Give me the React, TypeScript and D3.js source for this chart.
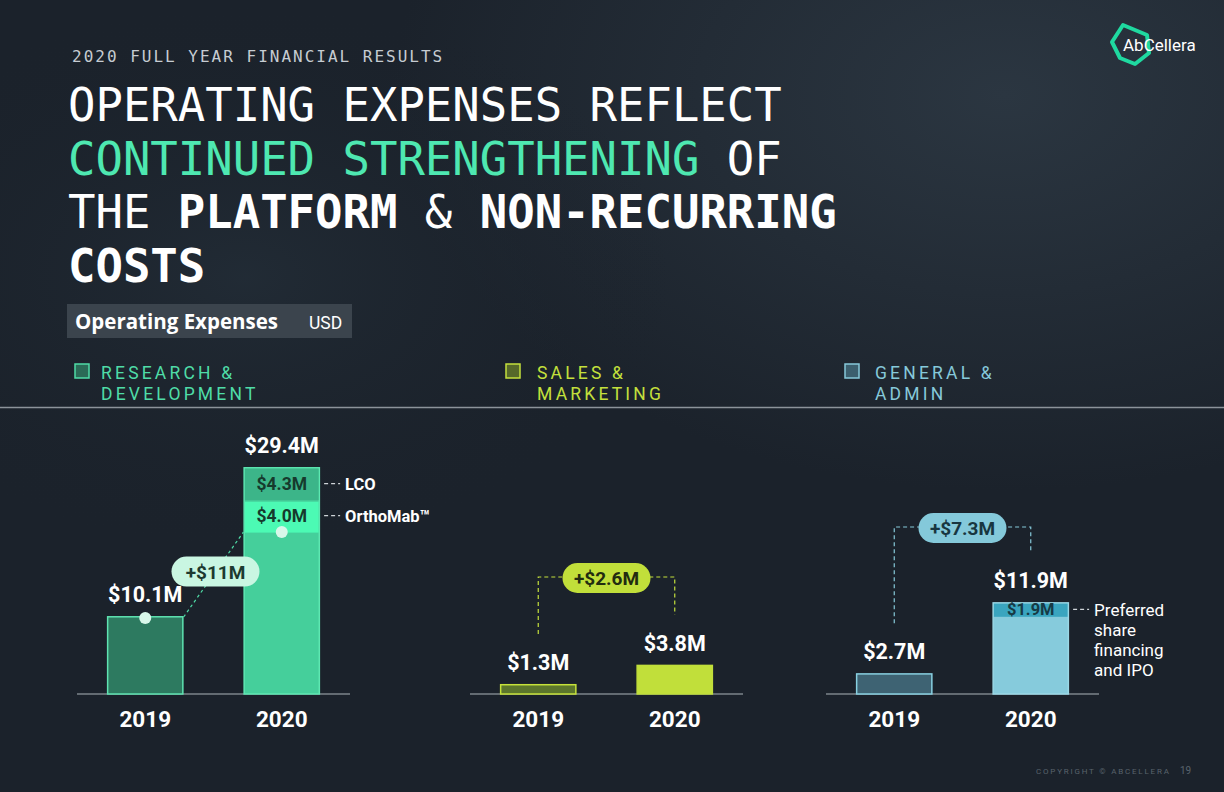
import React from 'react';
import * as d3 from 'd3';

const years = ['2019', '2020'];
const rdValues = [10.1, 29.4];
const smValues = [1.3, 3.8];
const gaValues = [2.7, 11.9];
const rdSegmentLabels = ['LCO', 'OrthoMab™'];
const rdSegmentValues = [4.3, 4.0];
const gaSegmentLabels = ['Preferred', 'share', 'financing', 'and IPO'];
const gaSegmentValues = [1.9];
const deltaLabels = ['+$11M', '+$2.6M', '+$7.3M'];
const legendLines = [['RESEARCH &', 'DEVELOPMENT'], ['SALES &', 'MARKETING'], ['GENERAL &', 'ADMIN']];
const titleSub = '2020 FULL YEAR FINANCIAL RESULTS';

const W = 1224, H = 792;
const BG = '#1b222b';
const MONO = '"DejaVu Sans Mono", monospace';
const SANS = 'Roboto, "Liberation Sans", sans-serif';

const fmt = (v: number) => `$${v.toFixed(1)}M`;

const themes = [
  { legend: '#4fdca7', legendFill: '#2b6b57', fill19: '#2d7a60', stroke19: '#5fe3b1', fill20: '#45cf9b', stroke20: '#5ee8b2', pill: '#c9f6e2', pillText: '#1d3a30', dark: '#163a2d' },
  { legend: '#c4e03c', legendFill: '#56682a', fill19: '#5c762c', stroke19: '#c6e23a', fill20: '#c1df3a', stroke20: '#c1df3a', pill: '#c1df3a', pillText: '#222c10', dark: '#222c10' },
  { legend: '#86c9da', legendFill: '#3c5f6e', fill19: '#3e6373', stroke19: '#88d0e1', fill20: '#86cbdc', stroke20: '#9ad8e6', pill: '#84c9da', pillText: '#183640', dark: '#173a45' },
];

const panelX = [77, 470, 826];
const panelW = 273;
const legendX = [75, 506, 845];
const bracketY = [0, 577, 527];

export default function App() {
  const y = d3.scaleLinear().domain([0, 30]).range([694, 462.4]);
  const bands = panelX.map((px) =>
    d3.scaleBand<string>().domain(years).range([px, px + panelW]).paddingInner(0.438).paddingOuter(0.219)
  );
  const series = [rdValues, smValues, gaValues];

  const pill = (cx: number, cy: number, text: string, t: any, w = 88) => (
    <g>
      <rect x={cx - w / 2} y={cy - 15} width={w} height={30} rx={15} fill={t.pill} />
      <text x={cx} y={cy + 7} textAnchor="middle" fontFamily={SANS} fontWeight={700} fontSize={19} fill={t.pillText}>{text}</text>
    </g>
  );

  const bRD = bands[0];
  const bw = bRD.bandwidth();
  const rdBase20 = rdValues[1] - rdSegmentValues[0] - rdSegmentValues[1];
  const x19r = (bRD('2019') as number) + bw;
  const x20l = bRD('2020') as number;
  const lineStart = [x19r, y(rdValues[0]) + 1];
  const lineEnd = [x20l, y(rdBase20) + 1];

  return (
    <svg width={W} height={H} style={{ display: 'block', position: 'absolute', left: 0, top: 0 }}>
      <defs>
        <radialGradient id="glow" cx="0.82" cy="0.12" r="0.5">
          <stop offset="0%" stopColor="#2b3641" />
          <stop offset="100%" stopColor={BG} />
        </radialGradient>
        <radialGradient id="glow2" cx="0.2" cy="0.35" r="0.35">
          <stop offset="0%" stopColor="#222c36" stopOpacity={0.9} />
          <stop offset="100%" stopColor={BG} stopOpacity={0} />
        </radialGradient>
      </defs>
      <rect width={W} height={H} fill={BG} />
      <rect width={W} height={H} fill="url(#glow)" />
      <rect width={W} height={H} fill="url(#glow2)" />

      <text x={72} y={62} fontFamily={MONO} fontSize={16} letterSpacing={2} fill="#c6ccd2">{titleSub}</text>
      <g fontFamily={MONO} fontSize={45.6} fill="#ffffff">
        <text x={68} y={121}>OPERATING EXPENSES REFLECT</text>
        <text x={68} y={175}><tspan fill="#4ee8b1">CONTINUED STRENGTHENING</tspan> OF</text>
        <text x={68} y={228}>THE <tspan fontWeight={700}>PLATFORM</tspan> &amp; <tspan fontWeight={700}>NON-RECURRING</tspan></text>
        <text x={68} y={282} fontWeight={700}>COSTS</text>
      </g>

      <g>
        <polygon points="1123,25 1147,35 1149,53 1135,64 1120,58 1112,42" fill="none" stroke="#1fd9a0" strokeWidth={4} strokeLinejoin="round" />
        <text x={1123} y={51} fontFamily={SANS} fontSize={17} fill="#ffffff">AbCellera</text>
      </g>

      <rect x={67} y={304} width={285} height={34} fill="#3b444d" />
      <text x={75} y={329} fontFamily={'"Open Sans", Roboto, sans-serif'} fontWeight={700} fontSize={20.5} fill="#ffffff">Operating Expenses</text>
      <text x={309} y={329} fontFamily={SANS} fontSize={17.5} fill="#ffffff">USD</text>

      {legendLines.map((lines, i) => (
        <g key={i}>
          <rect x={legendX[i]} y={364} width={14} height={14} fill={themes[i].legendFill} stroke={themes[i].legend} strokeWidth={1.5} />
          {lines.map((l, j) => (
            <text key={j} x={legendX[i] + 26 + (i === 2 ? 4 : 0) + (i === 1 ? 5 : 0)} y={379 + j * 21} fontFamily={SANS} fontSize={17.5} letterSpacing={3.2} fill={themes[i].legend}>{l}</text>
          ))}
        </g>
      ))}
      <line x1={0} x2={W} y1={407.5} y2={407.5} stroke="#8c939a" strokeWidth={1.5} />

      {series.map((vals, i) => {
        const b = bands[i];
        const t = themes[i];
        return (
          <g key={i}>
            <line x1={panelX[i]} x2={panelX[i] + panelW} y1={694} y2={694} stroke="#7d848b" strokeWidth={1.5} />
            {years.map((yr, k) => {
              const x = b(yr) as number;
              const top = y(vals[k]);
              return (
                <g key={yr}>
                  <rect x={x + 0.75} y={top + 0.75} width={b.bandwidth() - 1.5} height={694 - top - 0.75}
                    fill={k === 0 ? t.fill19 : t.fill20} stroke={k === 0 ? t.stroke19 : t.stroke20} strokeWidth={1.5} />
                  <text x={x + b.bandwidth() / 2} y={top - 14} textAnchor="middle" fontFamily={SANS} fontWeight={700} fontSize={21.5} fill="#ffffff">{fmt(vals[k])}</text>
                  <text x={x + b.bandwidth() / 2} y={727} textAnchor="middle" fontFamily={SANS} fontWeight={700} fontSize={22.5} fill="#ffffff">{yr}</text>
                </g>
              );
            })}
          </g>
        );
      })}

      {(() => {
        const x = bRD('2020') as number;
        let cur = rdValues[1];
        const segFills = ['#3cb589', '#4cfab4'];
        return rdSegmentValues.map((v, j) => {
          const top = y(cur);
          const bot = y(cur - v);
          cur -= v;
          const mid = (top + bot) / 2;
          return (
            <g key={j}>
              <rect x={x + 1.5} y={top + 1.5} width={bw - 3} height={bot - top - (j === 0 ? 1.5 : 0)} fill={segFills[j]} />
              <text x={x + bw / 2} y={mid + 6} textAnchor="middle" fontFamily={SANS} fontWeight={700} fontSize={17.5} fill={themes[0].dark}>{fmt(v)}</text>
              <line x1={x + bw + 4} x2={x + bw + 20} y1={mid} y2={mid} stroke="#cfd4d8" strokeWidth={1.2} strokeDasharray="4,3" />
              <text x={x + bw + 25} y={mid + 6} fontFamily={SANS} fontWeight={700} fontSize={16.5} fill="#ffffff">{rdSegmentLabels[j]}</text>
            </g>
          );
        });
      })()}

      <line x1={lineStart[0]} y1={lineStart[1]} x2={lineEnd[0]} y2={lineEnd[1]} stroke="#4fdca7" strokeWidth={1.2} strokeDasharray="3,3" />
      <circle cx={(bRD('2019') as number) + bw / 2} cy={y(rdValues[0]) + 2} r={6} fill="#d8f7ea" />
      <circle cx={(bRD('2020') as number) + bw / 2} cy={y(rdBase20) + 1} r={6} fill="#d8f7ea" />
      {pill((lineStart[0] + lineEnd[0]) / 2 + 2, (lineStart[1] + lineEnd[1]) / 2 - 3, deltaLabels[0], themes[0])}

      {(() => {
        const b = bands[2];
        const x = b('2020') as number;
        const top = y(gaValues[1]);
        const bot = y(gaValues[1] - gaSegmentValues[0]);
        const mid = (top + bot) / 2;
        return (
          <g>
            <rect x={x + 1.5} y={top + 1.5} width={b.bandwidth() - 3} height={bot - top - 1.5} fill="#3aa5bf" />
            <text x={x + b.bandwidth() / 2} y={mid + 6} textAnchor="middle" fontFamily={SANS} fontWeight={700} fontSize={16.5} fill={themes[2].dark}>{fmt(gaSegmentValues[0])}</text>
            <line x1={x + b.bandwidth() + 4} x2={x + b.bandwidth() + 20} y1={mid} y2={mid} stroke="#cfd4d8" strokeWidth={1.2} strokeDasharray="4,3" />
            {gaSegmentLabels.map((l, j) => (
              <text key={j} x={x + b.bandwidth() + 25} y={mid + 7 + j * 20} fontFamily={SANS} fontSize={17} fill="#ffffff">{l}</text>
            ))}
          </g>
        );
      })()}

      {[1, 2].map((i) => {
        const b = bands[i];
        const t = themes[i];
        const vals = series[i];
        const xl = (b('2019') as number) + b.bandwidth() / 2;
        const xr = (b('2020') as number) + b.bandwidth() / 2;
        const by = bracketY[i];
        const cx = (xl + xr) / 2;
        return (
          <g key={i}>
            <path d={`M${xl},${y(vals[0]) - 50} V${by} H${xr} V${y(vals[1]) - 50}`} fill="none" stroke={t.legend} strokeWidth={1.2} strokeDasharray="4,3" />
            {pill(cx, by + 1, deltaLabels[i], t, 88)}
          </g>
        );
      })}

      <text x={1036} y={774} fontFamily={SANS} fontSize={8} letterSpacing={1.8} fill="#59626c">COPYRIGHT © ABCELLERA</text>
      <text x={1180} y={774} fontFamily={SANS} fontSize={10} fill="#59626c">19</text>
    </svg>
  );
}
